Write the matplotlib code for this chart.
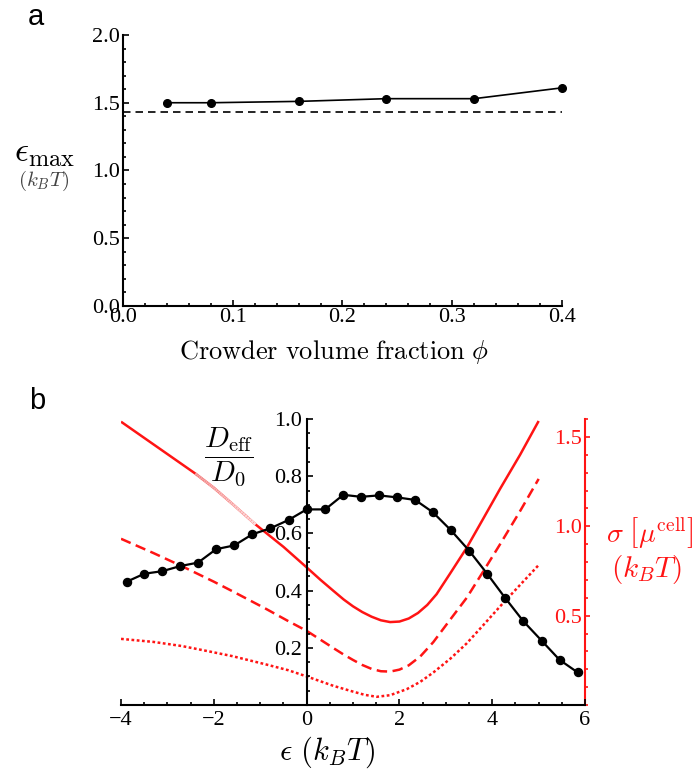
import numpy as np
import matplotlib
matplotlib.use('Agg')
import matplotlib.pyplot as plt
from matplotlib.collections import LineCollection
from matplotlib.colors import to_rgb
from matplotlib.ticker import MultipleLocator, FixedLocator, FormatStrFormatter

# ---- panel a: eps_max vs crowder volume fraction
phi = [0.04, 0.08, 0.16, 0.24, 0.32, 0.40]
eps_max = [1.50, 1.50, 1.51, 1.53, 1.53, 1.61]
eps_max_ref = 1.43

# ---- panel b: D_eff/D0 (black, left axis)
eps = [-3.88, -3.50, -3.11, -2.72, -2.34, -1.95, -1.56, -1.17, -0.78, -0.39,
       0.00, 0.40, 0.79, 1.17, 1.56, 1.95, 2.34, 2.72, 3.11, 3.50,
       3.89, 4.28, 4.67, 5.07, 5.45, 5.84]
d_ratio = [0.431, 0.459, 0.468, 0.486, 0.498, 0.545, 0.558, 0.597, 0.618, 0.647,
           0.684, 0.684, 0.735, 0.728, 0.733, 0.726, 0.717, 0.674, 0.611, 0.540,
           0.459, 0.374, 0.293, 0.224, 0.158, 0.114]

# sigma[mu_cell] curves (red, right axis)
sig_solid_x = [-4.0, -3.2, -2.4, -2.0, -1.6, -1.1, -0.5, 0.0, 0.3, 0.58, 0.8, 1.0, 1.2,
               1.4, 1.6, 1.8, 2.0, 2.2, 2.4, 2.6, 2.8, 3.09, 3.45, 3.8, 4.17, 4.6, 5.0]
sig_solid = [1.585, 1.44, 1.295, 1.215, 1.125, 1.01, 0.885, 0.77, 0.70, 0.638, 0.59,
             0.552, 0.52, 0.494, 0.474, 0.464, 0.467, 0.484, 0.515, 0.56, 0.62,
             0.735, 0.88, 1.04, 1.21, 1.40, 1.589]
sig_dash_x = [-4.0, -3.3, -2.69, -2.0, -1.61, -0.89, -0.4, 0.0, 0.3, 0.58, 0.8, 1.0,
              1.2, 1.4, 1.6, 1.8, 2.0, 2.2, 2.45, 2.73, 3.1, 3.45, 3.8, 4.17, 4.6, 5.0]
sig_dash = [0.93, 0.85, 0.777, 0.69, 0.638, 0.54, 0.47, 0.415, 0.365, 0.318, 0.282,
            0.252, 0.224, 0.202, 0.189, 0.187, 0.198, 0.222, 0.272, 0.352, 0.48,
            0.60, 0.745, 0.90, 1.085, 1.265]
sig_dot_x = [-4.0, -3.3, -2.69, -2.2, -1.61, -0.89, -0.4, 0.0, 0.58, 1.0, 1.25, 1.51,
             1.8, 2.16, 2.45, 2.73, 3.1, 3.45, 3.8, 4.17, 4.6, 5.0]
sig_dot = [0.37, 0.353, 0.33, 0.305, 0.274, 0.228, 0.195, 0.16, 0.107, 0.075, 0.057,
           0.046, 0.055, 0.089, 0.13, 0.182, 0.26, 0.345, 0.445, 0.552, 0.672, 0.783]
fade_range = (-2.4, -1.1)

RED = '#ff1414'

plt.rcParams['font.family'] = 'Liberation Serif'
plt.rcParams['mathtext.fontset'] = 'cm'
plt.rcParams['font.size'] = 16

fig = plt.figure(figsize=(7, 7.69), dpi=100)

# ================= panel a
ax = fig.add_axes([0.1757, 0.6021, 0.6271, 0.3524])
ax.plot(phi, eps_max, 'k-', lw=1.2, marker='o', ms=5.5, clip_on=False, zorder=3)
ax.axhline(eps_max_ref, color='k', lw=1.2, ls=(0, (4.5, 3)))
ax.set_xlim(0, 0.4)
ax.set_ylim(0, 2.0)
for s in ['top', 'right']:
    ax.spines[s].set_visible(False)
for s in ['left', 'bottom']:
    ax.spines[s].set_linewidth(1.5)
ax.xaxis.set_major_locator(MultipleLocator(0.1))
ax.xaxis.set_minor_locator(MultipleLocator(0.02))
ax.yaxis.set_major_locator(MultipleLocator(0.5))
ax.yaxis.set_minor_locator(MultipleLocator(0.1))
ax.xaxis.set_major_formatter(FormatStrFormatter('%.1f'))
ax.yaxis.set_major_formatter(FormatStrFormatter('%.1f'))
ax.tick_params(which='both', direction='in', width=1.2)
ax.tick_params(which='major', length=4.5)
ax.tick_params(which='minor', length=2.5)
ax.tick_params(axis='x', pad=1.5)
ax.tick_params(axis='y', pad=2)

fig.text(0.0514, 0.978, 'a', family='Liberation Sans', fontsize=21, ha='center', va='center')
fig.text(0.064, 0.802, r'$\epsilon_{\mathrm{max}}$', fontsize=25, ha='center', va='center')
fig.text(0.063, 0.7646, r'$(k_BT)$', fontsize=15, color='#444444', ha='center', va='center')
fig.text(0.477, 0.5423, r'$\mathrm{Crowder\ volume\ fraction}\ \phi$', fontsize=19,
         ha='center', va='center')

# ================= panel b
ax1 = fig.add_axes([0.1729, 0.0832, 0.6629, 0.3719])
ax2 = ax1.twinx()
ax1.set_zorder(ax2.get_zorder() + 1)
ax1.patch.set_visible(False)

ax2.plot(sig_solid_x, sig_solid, color=RED, lw=1.8, solid_capstyle='butt')
# faded stretch of the solid curve: pink getting paler, then back to red
fx = np.array(sig_solid_x)
fy = np.array(sig_solid)
m = (fx >= fade_range[0]) & (fx <= fade_range[1])
px, py = fx[m], fy[m]
segs, cols = [], []
c0 = np.array(to_rgb('#f3a0a0'))
c1 = np.array(to_rgb('#fcdede'))
for i in range(len(px) - 1):
    sx = np.linspace(px[i], px[i + 1], 12)
    sy = np.linspace(py[i], py[i + 1], 12)
    for j in range(len(sx) - 1):
        segs.append([(sx[j], sy[j]), (sx[j + 1], sy[j + 1])])
        t = (sx[j] - fade_range[0]) / (fade_range[1] - fade_range[0])
        cols.append(c0 + (c1 - c0) * t)
ax2.add_collection(LineCollection(segs, colors=cols, linewidths=1.9, capstyle='butt', zorder=3))

ax2.plot(sig_dash_x, sig_dash, color=RED, lw=1.8, ls=(0, (4.2, 2.2)))
ax2.plot(sig_dot_x, sig_dot, color=RED, lw=1.8, ls=(0, (1.1, 1.0)))

ax1.plot(eps, d_ratio, 'k-', lw=1.6, marker='o', ms=5.8, clip_on=False, zorder=3)

ax1.set_xlim(-4, 6)
ax1.set_ylim(0, 1.0)
ax2.set_ylim(0, 1.6)

ax1.spines['top'].set_visible(False)
ax1.spines['right'].set_visible(False)
ax1.spines['left'].set_position(('data', 0))
ax1.spines['left'].set_linewidth(1.5)
ax1.spines['bottom'].set_linewidth(1.5)
for s in ['top', 'left', 'bottom']:
    ax2.spines[s].set_visible(False)
ax2.spines['right'].set_color(RED)
ax2.spines['right'].set_linewidth(1.5)

ax1.xaxis.set_major_locator(FixedLocator([-4, -2, 0, 2, 4, 6]))
ax1.xaxis.set_minor_locator(MultipleLocator(0.5))
ax1.yaxis.set_major_locator(FixedLocator([0.2, 0.4, 0.6, 0.8, 1.0]))
ax1.yaxis.set_minor_locator(MultipleLocator(0.05))
ax1.yaxis.set_major_formatter(FormatStrFormatter('%.1f'))
ax1.tick_params(which='both', direction='in', width=1.2)
ax1.tick_params(which='major', length=4.5)
ax1.tick_params(which='minor', length=2.5)
ax1.tick_params(axis='x', pad=4)
ax1.tick_params(axis='y', pad=3)

ax2.yaxis.set_major_locator(FixedLocator([0.5, 1.0, 1.5]))
ax2.yaxis.set_minor_locator(MultipleLocator(0.1))
ax2.yaxis.set_major_formatter(FormatStrFormatter('%.1f'))
ax2.tick_params(axis='y', which='both', direction='out', colors=RED, width=1.2)
ax2.tick_params(axis='y', which='major', length=3.5, pad=-5.5)
ax2.tick_params(axis='y', which='minor', length=2.5)
for t in ax2.yaxis.get_major_ticks():
    t.label2.set_horizontalalignment('right')

fig.text(0.0529, 0.4785, 'b', family='Liberation Sans', fontsize=21, ha='center', va='center')
fig.text(0.327, 0.4057, r'$\dfrac{D_{\mathrm{eff}}}{D_0}$', fontsize=21, ha='center', va='center')
fig.text(0.928, 0.3069, r'$\sigma\ \left[\mu^{\mathrm{cell}}\right]$', fontsize=20,
         color=RED, ha='center', va='center')
fig.text(0.9236, 0.2588, r'$(k_BT)$', fontsize=21, color=RED, ha='center', va='center')
fig.text(0.467, 0.0221, r'$\epsilon\ (k_BT)$', fontsize=22, ha='center', va='center')

fig.savefig('out.png', dpi=100)
